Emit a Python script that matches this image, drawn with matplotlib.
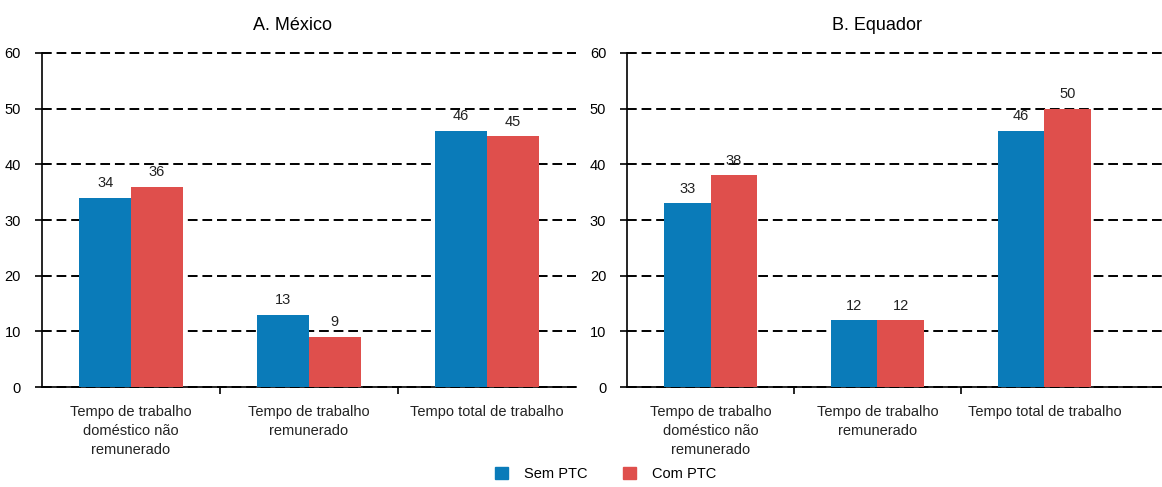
import numpy as np
import matplotlib
matplotlib.use("Agg")
import matplotlib.pyplot as plt
from matplotlib.patches import Patch

plt.rcParams['font.family'] = ['Liberation Sans', 'DejaVu Sans']

categories = ["Tempo de trabalho\ndoméstico não\nremunerado",
              "Tempo de trabalho\nremunerado",
              "Tempo total de trabalho"]
series_names = ["Sem PTC", "Com PTC"]
mexico_sem = [34, 13, 46]
mexico_com = [36, 9, 45]
equador_sem = [33, 12, 46]
equador_com = [38, 12, 50]
titles = ["A. México", "B. Equador"]

blue = "#0a7bb9"
red = "#df4f4c"

fig = plt.figure(figsize=(11.62, 4.87), dpi=100)
ax1 = fig.add_axes([0.0361, 0.2053, 0.4596, 0.6859])
ax2 = fig.add_axes([0.5396, 0.2053, 0.4604, 0.6859])

panels = [(ax1, mexico_sem, mexico_com, 2.5, 0.29),
          (ax2, equador_sem, equador_com, 2.704, 0.28)]

x = np.arange(len(categories))
for ax, sem, com, xmax, w in panels:
    b1 = ax.bar(x - w / 2, sem, w, color=blue, zorder=3)
    b2 = ax.bar(x + w / 2, com, w, color=red, zorder=3)
    ax.bar_label(b1, padding=5.5, fontsize=10.5, color="#222222")
    ax.bar_label(b2, padding=5.5, fontsize=10.5, color="#222222")
    ax.set_xlim(-0.5, xmax)
    ax.set_ylim(0, 60)
    ax.set_yticks(range(0, 61, 10))
    ax.yaxis.grid(True, color="black", linestyle=(0, (5, 2.5)), linewidth=1.4, zorder=0)
    for gl in ax.get_ygridlines():
        gl.set_clip_on(False)
    ax.set_xticks(x)
    ax.set_xticklabels(categories, fontsize=10.5, color="#222222", linespacing=1.45)
    ax.tick_params(axis="x", length=0, pad=13)
    ax.set_xticks([0.5, 1.5], minor=True)
    ax.tick_params(axis="x", which="minor", length=5, width=1.2, direction="out")
    ax.tick_params(axis="y", length=5, width=1.2, labelsize=10.5, pad=10, colors="black")
    for s in ["top", "right"]:
        ax.spines[s].set_visible(False)
    ax.spines["left"].set_linewidth(1.2)
    ax.spines["bottom"].set_linewidth(1.2)

fig.text(0.252, 0.948, titles[0], ha="center", va="center", fontsize=13)
fig.text(0.755, 0.948, titles[1], ha="center", va="center", fontsize=13)

handles = [Patch(color=blue), Patch(color=red)]
fig.legend(handles, series_names, loc="center", bbox_to_anchor=(0.521, 0.027),
           ncol=2, frameon=False, fontsize=10.5, handlelength=0.9, handleheight=0.9,
           columnspacing=2.4, handletextpad=1.1)

fig.savefig("out.png", dpi=100)
